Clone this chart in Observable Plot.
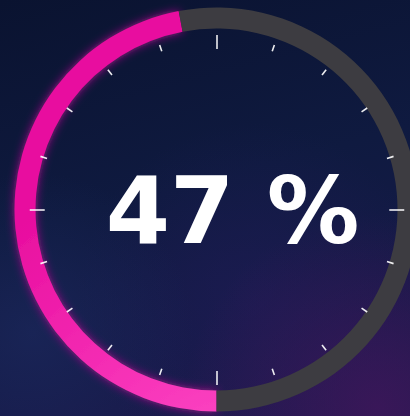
<!DOCTYPE html>
<html><head><meta charset="utf-8">
<script src="https://cdn.jsdelivr.net/npm/d3@7"></script>
<script src="https://cdn.jsdelivr.net/npm/@observablehq/plot@0.6"></script>
<style>
html,body{margin:0;padding:0;background:#0f1838;}
#chart{width:410px;height:416px;overflow:hidden;}
</style></head><body><div id="chart"></div>
<script>
// ---- data ----
const gaugeValue = [47];            // percent filled
const gaugeLabels = ["47 %"];
const tickAngles = [0,18,36,54,72,90,108,126,144,162,180,198,216,234,252,270,288,306,324,342];
const majorTickAngles = [0,90,180,270];

// ---- layout constants ----
const W = 410, H = 416;
const CX = 216.5, CY = 209.5;       // pixel centre of the dial
const R_OUT = 202, R_IN = 181;
const STRETCH = 1.07;               // dial ticks are slightly wider than tall

const tickData = tickAngles.map(a => {
  const major = majorTickAngles.includes(a);
  const r1 = major ? 161 : 167, r2 = major ? 175 : 173.5;
  const t = a * Math.PI / 180;
  return {
    x1: STRETCH * r1 * Math.sin(t), y1: r1 * Math.cos(t),
    x2: STRETCH * r2 * Math.sin(t), y2: r2 * Math.cos(t), major
  };
});

function ringMark(index, scales) {
  const g = d3.create("svg:g");
  const cx = scales.x(0), cy = scales.y(0);
  const ro = scales.x(R_OUT) - scales.x(0), ri = scales.x(R_IN) - scales.x(0);
  const defs = g.append("defs");
  const grad = defs.append("radialGradient").attr("id", "pinkGrad")
    .attr("gradientUnits", "userSpaceOnUse")
    .attr("cx", 30).attr("cy", 320).attr("r", 380);
  grad.append("stop").attr("offset", "0").attr("stop-color", "#ff5bcc");
  grad.append("stop").attr("offset", "0.45").attr("stop-color", "#f836ba");
  grad.append("stop").attr("offset", "1").attr("stop-color", "#e80e9f");
  const f = defs.append("filter").attr("id", "glow")
    .attr("x", "-20%").attr("y", "-20%").attr("width", "140%").attr("height", "140%");
  f.append("feGaussianBlur").attr("in", "SourceAlpha").attr("stdDeviation", 5).attr("result", "b");
  f.append("feFlood").attr("flood-color", "#a3128a").attr("flood-opacity", 1);
  f.append("feComposite").attr("in2", "b").attr("operator", "in").attr("result", "g");
  const m = f.append("feMerge");
  m.append("feMergeNode").attr("in", "g");
  m.append("feMergeNode").attr("in", "SourceGraphic");

  const start = Math.PI;
  const end = start + gaugeValue[0] / 100 * 2 * Math.PI;
  const arc = d3.arc().innerRadius(ri).outerRadius(ro);
  g.append("path")
    .attr("transform", `translate(${cx},${cy})`)
    .attr("d", arc({startAngle: start, endAngle: end}))
    .attr("fill", "url(#pinkGrad)")
    .attr("filter", "url(#glow)");
  g.append("path")
    .attr("transform", `translate(${cx},${cy})`)
    .attr("d", arc({startAngle: end, endAngle: start + 2 * Math.PI}))
    .attr("fill", "#3d3c41");
  return g.node();
}

const chart = Plot.plot({
  width: W, height: H, margin: 0,
  x: {domain: [-CX, W - CX], range: [0, W], axis: null},
  y: {domain: [-(H - CY), CY], range: [H, 0], axis: null},
  style: {
    background:
      "radial-gradient(circle at 92% 98%, rgba(66,22,92,0.75), rgba(66,22,92,0) 35%)," +
      "radial-gradient(circle at 8% 80%, rgba(32,48,105,0.45), rgba(32,48,105,0) 32%)," +
      "radial-gradient(circle at 62% 72%, rgba(36,28,92,0.45), rgba(36,28,92,0) 45%)," +
      "linear-gradient(165deg, #0a1330 0%, #0f1a40 45%, #151a48 75%, #1e1a4e 100%)",
    overflow: "hidden"
  },
  marks: [
    ringMark,
    Plot.link(tickData, {
      x1: "x1", y1: "y1", x2: "x2", y2: "y2",
      stroke: "#ffffff", strokeWidth: 1.6, strokeOpacity: 0.92
    }),
    Plot.text(gaugeLabels, {
      x: [15.5], y: [-32.5], text: d => d,
      fill: "#ffffff", fontSize: 92.5, fontWeight: 700,
      fontFamily: "DejaVu Sans", textAnchor: "middle", lineAnchor: "bottom"
    })
  ]
});
document.getElementById("chart").appendChild(chart);
</script>
</body></html>
